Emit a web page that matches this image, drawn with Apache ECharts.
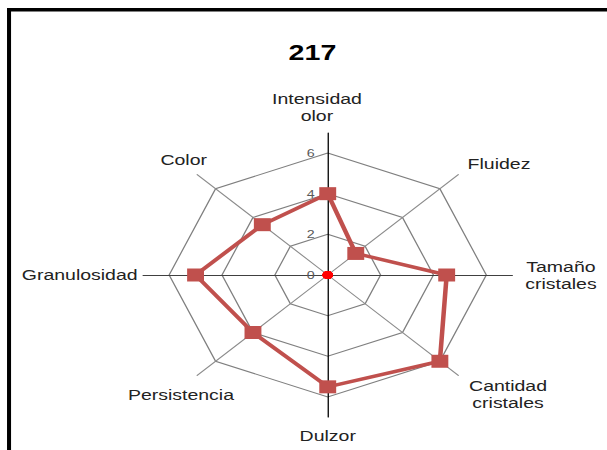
<!DOCTYPE html>
<html><head><meta charset="utf-8">
<script src="https://cdn.jsdelivr.net/npm/echarts@6/dist/echarts.min.js"></script>
<style>
html,body{margin:0;padding:0;background:#fff;overflow:hidden;width:607px;height:450px}
#c{position:absolute;left:0;top:0;width:467px;height:450px;transform:scaleX(1.3);transform-origin:0 0}
</style>
</head><body><div id="c"></div>
<script>
// ---- data (clockwise from top, as in the picture) ----
const chartTitle = '217';
const categories = ['Intensidad\nolor', 'Fluidez', 'Tamaño\ncristales', 'Cantidad\ncristales', 'Dulzor', 'Persistencia', 'Granulosidad', 'Color'];
const values = [4, 1.5, 4.5, 6, 5.5, 4, 5, 3.5];
const originValues = [0, 0, 0, 0, 0, 0, 0, 0];
const axisMax = 6;
const tickLabels = ['0', '2', '4', '6'];

// ---- layout / style (per category, same order) ----
const nameLayout = [
  { gap: 25.5, pad: [0, 16.6, 0, 0], line: '#000' },
  { gap: 15.3, pad: [0, 0, 0, 41], line: '#8c8c8c' },
  { gap: 37.4, pad: [0, 0, 8.4, 0], line: '#404040' },
  { gap: 27, pad: [0, 0, 0, 38.4], line: '#8c8c8c' },
  { gap: 19, pad: [0, 0, 0, 0], line: '#000' },
  { gap: 27.7, pad: [0, 0, 0, 14.2], line: '#8c8c8c' },
  { gap: 48.8, pad: [0, 0, 3.4, 0], line: '#404040' },
  { gap: 20.6, pad: [0, 0, 0, 8.4], line: '#8c8c8c' }
];
// ECharts lays indicators counter-clockwise: reorder
const order = [0, 7, 6, 5, 4, 3, 2, 1];

const cx = 252.1, cy = 275, rIn = 122, rOut = 142;
const font = 'Arial, "Liberation Sans", sans-serif';

const innerInd = order.map((i, k) => ({
  name: categories[i], max: axisMax, min: 0,
  axisLabel: { show: k === 0 }
}));
const outerInd = order.map(i => ({
  name: categories[i], max: axisMax, min: 0,
  nameGap: nameLayout[i].gap,
  axisLine: { lineStyle: { color: nameLayout[i].line, width: 1 } },
  nameTextStyle: {
    align: 'center', verticalAlign: 'middle',
    padding: nameLayout[i].pad
  }
}));

const chart = echarts.init(document.getElementById('c'), null, { renderer: 'svg' });
chart.setOption({
  animation: false,
  backgroundColor: '#fff',
  title: {
    text: chartTitle, left: 217, top: 36,
    textStyle: { fontFamily: font, fontSize: 22, fontWeight: 'bold', color: '#000' }
  },
  graphic: [
    { type: 'rect', shape: { x: 5.4, y: 8, width: 3.1, height: 460 }, style: { fill: '#000' } },
    { type: 'rect', shape: { x: 5.4, y: 8, width: 470, height: 3.6 }, style: { fill: '#000' } }
  ],
  radar: [
    {
      center: [cx, cy], radius: rIn, startAngle: 90, shape: 'polygon',
      splitNumber: tickLabels.length - 1,
      indicator: innerInd,
      axisName: { show: false },
      axisLine: { show: false },
      splitLine: { lineStyle: { color: '#7f7f7f', width: 1 } },
      splitArea: { show: false },
      axisTick: { show: false },
      axisLabel: { show: false, color: '#595959', fontSize: 11, fontFamily: font, margin: 10 }
    },
    {
      center: [cx, cy], radius: rOut, startAngle: 90, shape: 'polygon',
      indicator: outerInd,
      axisName: { color: '#222', fontSize: 15, fontFamily: font, lineHeight: 17 },
      axisLine: { lineStyle: { color: '#7f7f7f', width: 1 } },
      splitLine: { show: false },
      splitArea: { show: false },
      axisTick: { show: false },
      axisLabel: { show: false }
    }
  ],
  series: [
    {
      type: 'radar', radarIndex: 0, silent: true,
      symbol: 'rect', symbolSize: 13,
      lineStyle: { color: '#c0504d', width: 3.5 },
      itemStyle: { color: '#c0504d' },
      data: [{ value: order.map(i => values[i]) }]
    },
    {
      type: 'radar', radarIndex: 0, silent: true,
      symbol: 'circle', symbolSize: 8,
      lineStyle: { opacity: 0 },
      itemStyle: { color: '#ff0000' },
      data: [{ value: order.map(i => originValues[i]) }]
    }
  ]
});
</script>
</body></html>
